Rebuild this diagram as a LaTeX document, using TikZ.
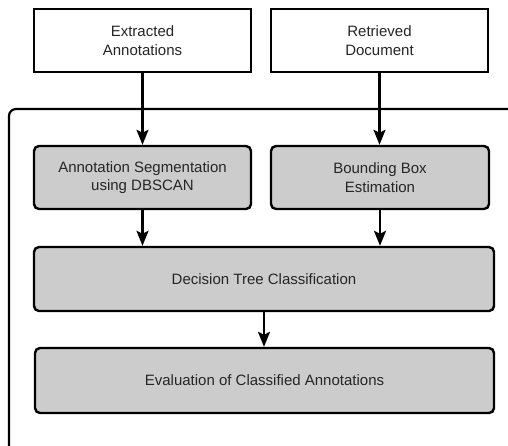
\documentclass[tikz,border=0pt]{standalone}
\usepackage{fontspec}
\setmainfont{Liberation Sans}
\usetikzlibrary{arrows.meta}
\begin{document}
\begin{tikzpicture}[x=1pt,y=-1pt,
  base/.style={draw=black, line width=2.4pt, align=center, inner sep=0pt,
    font=\fontsize{15}{18.5}\selectfont, text=black!85},
  inbox/.style={base, fill=white, minimum height=63pt},
  stagebox/.style={base, fill=black!20, rounded corners=5pt},
  arr/.style={line width=2.2pt, -{Stealth[length=15pt,width=12pt,inset=3pt]}},
  frame/.style={line width=2.2pt, rounded corners=7pt}]
\useasboundingbox (0,0) rectangle (508,445);
\node[inbox, minimum width=217pt] (ext) at (142.5,40.5) {Extracted\\Annotations};
\node[inbox, minimum width=217pt] (ret) at (379.5,40.5) {Retrieved\\Document};
\draw[frame] (9,446) -- (9,109) -- (509,109);
\node[stagebox, minimum width=217pt, minimum height=63pt] (seg) at (142.5,177.5) {Annotation Segmentation\\using DBSCAN};
\node[stagebox, minimum width=218pt, minimum height=63pt] (bbe) at (380,177.5) {Bounding Box\\Estimation};
\node[stagebox, minimum width=460pt, minimum height=64pt] (dtc) at (264,279) {Decision Tree Classification};
\node[stagebox, minimum width=459pt, minimum height=65pt] (eva) at (264.5,380.5) {Evaluation of Classified Annotations};
\draw[arr] (ext.south -| seg.north) -- (seg.north);
\draw[arr] (ret.south) -- (ret.south |- bbe.north);
\draw[arr] (seg.south) -- (seg.south |- dtc.north);
\draw[arr] (bbe.south) -- (bbe.south |- dtc.north);
\draw[arr] (dtc.south) -- (dtc.south |- eva.north);
\end{tikzpicture}
\end{document}
